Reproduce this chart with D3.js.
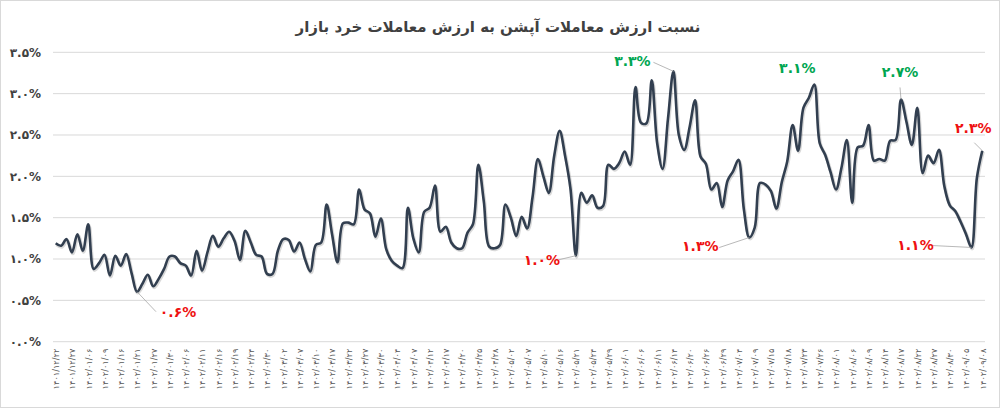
<!DOCTYPE html>
<html>
<head>
<meta charset="utf-8">
<script src="https://cdn.jsdelivr.net/npm/d3@7"></script>
<style>
  body { margin: 0; background: #fff; }
  svg text { font-family: "DejaVu Sans", sans-serif; }
</style>
</head>
<body>
<div id="chart"></div>
<script>
// chart title
const title = "نسبت ارزش معاملات آپشن به ارزش معاملات خرد بازار";

// ratio of option trades value to retail market value (%)
const values = [
  1.19, 1.16, 1.24, 1.08, 1.30, 1.10, 1.42, 0.88, 0.95, 1.05,
  0.80, 1.04, 0.92, 1.06, 0.83, 0.605, 0.70, 0.81, 0.67, 0.76,
  0.88, 1.03, 1.03, 0.95, 0.92, 0.80, 1.10, 0.86, 1.08, 1.28,
  1.15, 1.25, 1.33, 1.22, 0.99, 1.34, 1.20, 1.05, 1.03, 0.82,
  0.82, 1.10, 1.24, 1.23, 1.09, 1.20, 1.00, 0.85, 1.17, 1.20,
  1.66, 1.30, 0.96, 1.43, 1.44, 1.42, 1.84, 1.60, 1.55, 1.27,
  1.49, 1.12, 0.98, 0.92, 0.89, 1.62, 1.25, 1.08, 1.57, 1.62,
  1.89, 1.33, 1.39, 1.20, 1.13, 1.13, 1.32, 1.42, 2.14, 1.70,
  1.15, 1.13, 1.17, 1.66, 1.50, 1.28, 1.51, 1.37, 1.75, 2.21,
  2.00, 1.80, 2.25, 2.55, 2.25, 1.85, 1.04, 1.80, 1.68, 1.77,
  1.62, 1.64, 2.14, 2.09, 2.16, 2.30, 2.14, 3.08, 2.65, 2.64,
  3.16, 2.40, 2.09, 2.70, 3.27, 2.50, 2.32, 2.60, 2.92, 2.24,
  2.15, 1.84, 1.92, 1.63, 1.95, 2.06, 2.20, 1.60, 1.26, 1.38,
  1.92, 1.90, 1.82, 1.61, 1.93, 2.18, 2.62, 2.31, 2.83, 2.95,
  3.11, 2.40, 2.26, 2.05, 1.84, 2.10, 2.44, 1.68, 2.35, 2.37,
  2.62, 2.19, 2.21, 2.19, 2.43, 2.44, 2.93, 2.66, 2.38, 2.83,
  2.04, 2.25, 2.16, 2.32, 1.88, 1.65, 1.58, 1.45, 1.30, 1.14,
  1.98, 2.31
];

// date labels, one for every third trading day
const dateLabels = [
  "۱۴۰۱/۱۲/۲۲", "۱۴۰۱/۱۲/۲۷", "۱۴۰۲/۰۱/۰۶", "۱۴۰۲/۰۱/۰۹", "۱۴۰۲/۰۱/۱۶",
  "۱۴۰۲/۰۱/۲۱", "۱۴۰۲/۰۱/۲۷", "۱۴۰۲/۰۱/۳۰", "۱۴۰۲/۰۲/۰۶", "۱۴۰۲/۰۲/۱۱",
  "۱۴۰۲/۰۲/۱۶", "۱۴۰۲/۰۲/۱۹", "۱۴۰۲/۰۲/۲۴", "۱۴۰۲/۰۲/۳۰", "۱۴۰۲/۰۳/۰۲",
  "۱۴۰۲/۰۳/۰۷", "۱۴۰۲/۰۳/۱۰", "۱۴۰۲/۰۳/۱۷", "۱۴۰۲/۰۳/۲۲", "۱۴۰۲/۰۳/۲۷",
  "۱۴۰۲/۰۳/۳۰", "۱۴۰۲/۰۴/۰۴", "۱۴۰۲/۰۴/۰۷", "۱۴۰۲/۰۴/۱۲", "۱۴۰۲/۰۴/۱۷",
  "۱۴۰۲/۰۴/۲۰", "۱۴۰۲/۰۴/۲۵", "۱۴۰۲/۰۴/۲۸", "۱۴۰۲/۰۵/۰۲", "۱۴۰۲/۰۵/۰۷",
  "۱۴۰۲/۰۵/۱۰", "۱۴۰۲/۰۵/۱۶", "۱۴۰۲/۰۵/۲۱", "۱۴۰۲/۰۵/۲۴", "۱۴۰۲/۰۵/۲۹",
  "۱۴۰۲/۰۶/۰۱", "۱۴۰۲/۰۶/۰۶", "۱۴۰۲/۰۶/۱۱", "۱۴۰۲/۰۶/۱۴", "۱۴۰۲/۰۶/۲۰",
  "۱۴۰۲/۰۶/۲۶", "۱۴۰۲/۰۶/۲۹", "۱۴۰۲/۰۷/۰۴", "۱۴۰۲/۰۷/۰۹", "۱۴۰۲/۰۷/۱۵",
  "۱۴۰۲/۰۷/۱۸", "۱۴۰۲/۰۷/۲۳", "۱۴۰۲/۰۷/۲۶", "۱۴۰۲/۰۸/۰۱", "۱۴۰۲/۰۸/۰۶",
  "۱۴۰۲/۰۸/۰۹", "۱۴۰۲/۰۸/۱۴", "۱۴۰۲/۰۸/۱۷", "۱۴۰۲/۰۸/۲۲", "۱۴۰۲/۰۸/۲۷",
  "۱۴۰۲/۰۸/۳۰", "۱۴۰۲/۰۹/۰۵", "۱۴۰۲/۰۹/۰۸"
];
const labelStep = 3;

// y axis ticks
const yTicks = [0, 0.5, 1.0, 1.5, 2.0, 2.5, 3.0, 3.5];

// highlighted points: index into values, text, colour kind
const noteIndex = [15, 96, 114, 128, 140, 156, 169, 171];
const noteText  = ["۰.۶%", "۱.۰%", "۳.۳%", "۱.۳%", "۳.۱%", "۲.۷%", "۱.۱%", "۲.۳%"];
const noteKind  = ["low", "low", "high", "low", "high", "high", "low", "low"];

const width = 1000, height = 408;
const margin = { top: 52.3, right: 15, bottom: 66.3, left: 53 };

const faDigits = "۰۱۲۳۴۵۶۷۸۹";
const toFa = s => String(s).replace(/\d/g, d => faDigits[+d]);

const svg = d3.select("#chart")
  .append("svg")
  .attr("width", width)
  .attr("height", height);

// outer frame
svg.append("rect")
  .attr("x", 0.5).attr("y", 0.5)
  .attr("width", width - 1).attr("height", height - 1)
  .attr("fill", "#fff")
  .attr("stroke", "#d9d9d9");

svg.append("text")
  .attr("x", 498)
  .attr("y", 32)
  .attr("text-anchor", "middle")
  .attr("font-size", 15)
  .attr("font-weight", "bold")
  .attr("fill", "#404040")
  .attr("direction", "rtl")
  .text(title);

const x = d3.scalePoint()
  .domain(d3.range(values.length))
  .range([margin.left, width - margin.right])
  .padding(0.5);

const y = d3.scaleLinear()
  .domain([0, 3.5])
  .range([height - margin.bottom, margin.top]);

// gridlines
svg.append("g")
  .selectAll("line")
  .data(yTicks)
  .join("line")
  .attr("x1", margin.left)
  .attr("x2", width - margin.right)
  .attr("y1", d => y(d))
  .attr("y2", d => y(d))
  .attr("stroke", "#d9d9d9")
  .attr("stroke-width", 1);

// y axis labels
const leftAxis = d3.axisLeft(y)
  .tickValues(yTicks)
  .tickSize(0)
  .tickPadding(12)
  .tickFormat(d => toFa(d.toFixed(1)) + "%");

svg.append("g")
  .attr("transform", `translate(${margin.left},0)`)
  .call(leftAxis)
  .call(g => g.select(".domain").remove())
  .call(g => g.selectAll("text")
    .attr("font-family", "DejaVu Sans")
    .attr("font-size", 12)
    .attr("font-weight", "bold")
    .attr("fill", "#404040"));

// x axis labels
const bottomAxis = d3.axisBottom(x)
  .tickValues(d3.range(0, values.length, labelStep))
  .tickSize(0)
  .tickFormat(i => dateLabels[i / labelStep]);

svg.append("g")
  .attr("transform", `translate(0,${height - margin.bottom})`)
  .call(bottomAxis)
  .call(g => g.select(".domain").remove())
  .call(g => g.selectAll("text")
    .attr("font-family", "DejaVu Sans")
    .attr("font-size", 8.2)
    .attr("fill", "#595959")
    .attr("text-anchor", "end")
    .attr("dy", "0.35em")
    .attr("transform", "translate(0,7) rotate(-90)")
    .attr("x", 0)
    .attr("y", 0));

// the line
const line = d3.line()
  .x((d, i) => x(i))
  .y(d => y(d))
  .curve(d3.curveCatmullRom.alpha(0.5));

svg.append("path")
  .datum(values)
  .attr("fill", "none")
  .attr("stroke", "rgba(0,0,0,0.15)")
  .attr("stroke-width", 3.5)
  .attr("transform", "translate(0.8,1.2)")
  .attr("d", line);

svg.append("path")
  .datum(values)
  .attr("fill", "none")
  .attr("stroke", "#323f50")
  .attr("stroke-width", 2.6)
  .attr("stroke-linejoin", "round")
  .attr("d", line);

// annotations: text offset relative to the point
const noteOffset = [
  { dx: 41, dy: 20, lx: 19, ly: 20 },
  { dx: -34, dy: 4, lx: -17, ly: 4 },
  { dx: -41, dy: -10, lx: -20, ly: -9 },
  { dx: -49, dy: 9, lx: -30, ly: 10 },
  { dx: -17, dy: -16, lx: null, ly: null },
  { dx: -1, dy: -27, lx: -1, ly: -12 },
  { dx: -56, dy: -2, lx: -41, ly: -2 },
  { dx: -9, dy: -23, lx: -8, ly: -8 }
];

const notes = svg.append("g");
noteIndex.forEach((idx, k) => {
  const px = x(idx), py = y(values[idx]);
  const o = noteOffset[k];
  const col = noteKind[k] === "high" ? "#00a651" : "#ee1111";
  if (o.lx !== null) {
    notes.append("line")
      .attr("x1", px).attr("y1", py)
      .attr("x2", px + o.lx).attr("y2", py + o.ly)
      .attr("stroke", "#a6a6a6")
      .attr("stroke-width", 0.8);
  }
  notes.append("text")
    .attr("x", px + o.dx)
    .attr("y", py + o.dy)
    .attr("dy", "0.35em")
    .attr("text-anchor", "middle")
    .attr("font-size", 14)
    .attr("font-weight", "bold")
    .attr("fill", col)
    .text(noteText[k]);
});
</script>
</body>
</html>
